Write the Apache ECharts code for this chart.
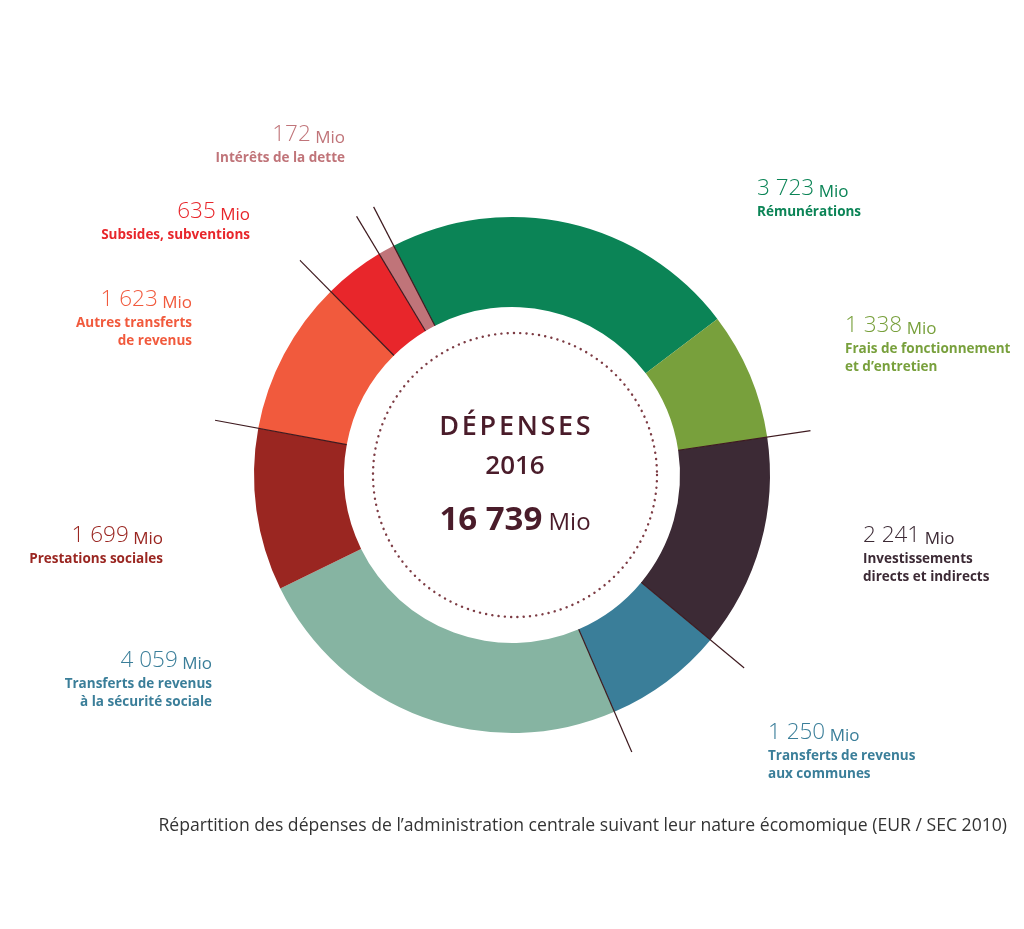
<!DOCTYPE html>
<html>
<head>
<meta charset="utf-8">
<script src="https://cdn.jsdelivr.net/npm/echarts@6/dist/echarts.min.js"></script>
<style>
html,body{margin:0;padding:0;background:#fff;}
#c{width:1024px;height:929px;}
</style>
</head>
<body>
<div id="c"></div>
<script>
// ---- data ----
const categories = [
  'Rémunérations',
  'Frais de fonctionnement\net d’entretien',
  'Investissements\ndirects et indirects',
  'Transferts de revenus\naux communes',
  'Transferts de revenus\nà la sécurité sociale',
  'Prestations sociales',
  'Autres transferts\nde revenus',
  'Subsides, subventions',
  'Intérêts de la dette'
];
const values = [3723, 1338, 2241, 1250, 4059, 1699, 1623, 635, 172];
const reportedTotal = 16739; // total as printed in the centre (rounded figures)
// boundaries (after item index) that carry a leader line
const lineAfter = [1, 2, 3, 5, 6, 7, 8];
const centerTitle = 'DÉPENSES';
const centerYear = '2016';
const unit = 'Mio';
const caption = 'Répartition des dépenses de l’administration centrale suivant leur nature écomomique (EUR / SEC 2010)';

// ---- styles ----
const sliceColors = ['#0b8456', '#78a03c', '#3c2a35', '#3a7e99', '#86b4a2', '#9a2621', '#f15a3d', '#e8262b', '#c07479'];
const labelColors = ['#0b8456', '#78a03c', '#3c2a35', '#3a7e99', '#3a7e99', '#9a2621', '#f15a3d', '#e8262b', '#c07479'];
// label anchor [x, y, align]
const labelPos = [
  [757, 175, 'left'],
  [845, 312, 'left'],
  [863, 522, 'left'],
  [768, 719, 'left'],
  [212, 647, 'right'],
  [163, 522, 'right'],
  [192, 286, 'right'],
  [250, 198, 'right'],
  [345, 121, 'right']
];
const CX = 512, CY = 475, R_IN = 168, R_OUT = 258, R_LINE = 302, START = 117.3;

function fmt(v) {
  return String(v).replace(/\B(?=(\d{3})+(?!\d))/g, ' ');
}
const total = values.reduce((a, b) => a + b, 0);

const cum = [];
values.reduce((a, v, i) => { cum[i] = a + v; return a + v; }, 0);

const pieData = values.map((v, i) => ({
  name: categories[i],
  value: v,
  itemStyle: { color: sliceColors[i] },
  label: { color: labelColors[i], align: labelPos[i][2] }
}));

const lineSeries = lineAfter.map(i => ({
  type: 'line',
  coordinateSystem: 'polar',
  data: [[R_IN, cum[i]], [R_LINE, cum[i]]],
  symbol: 'none',
  silent: true,
  z: 5,
  lineStyle: { color: '#3e1a1f', width: 1.2 }
}));

const FONT = '"Open Sans", "Noto Sans", sans-serif';

const chart = echarts.init(document.getElementById('c'), null, { renderer: 'canvas' });
chart.setOption({
  backgroundColor: '#ffffff',
  animation: false,
  polar: { center: [CX, CY], radius: R_LINE },
  angleAxis: { type: 'value', min: 0, max: total, startAngle: START, clockwise: true, show: false },
  radiusAxis: { type: 'value', min: 0, max: R_LINE, show: false },
  series: [
    {
      type: 'pie',
      center: [CX, CY],
      radius: [R_IN, R_OUT],
      startAngle: START,
      clockwise: true,
      avoidLabelOverlap: false,
      silent: true,
      z: 2,
      data: pieData,
      itemStyle: { borderWidth: 0 },
      label: {
        show: true,
        position: 'outside',
        fontFamily: FONT,
        formatter: function (p) {
          const names = categories[p.dataIndex].split('\n').map(s => '{name|' + s + '}').join('\n');
          return '{num|' + fmt(p.value) + '}{mio| ' + unit + '}\n' + names;
        },
        rich: {
          num: { fontFamily: FONT, fontSize: 22.5, fontWeight: 300, lineHeight: 28 },
          mio: { fontFamily: FONT, fontSize: 17, fontWeight: 400, lineHeight: 28, verticalAlign: 'bottom', padding: [0, 0, 2, 0] },
          name: { fontFamily: FONT, fontSize: 13.5, fontWeight: 700, lineHeight: 18 }
        }
      },
      labelLine: { show: false },
      labelLayout: function (params) {
        const p = labelPos[params.dataIndex];
        return { x: p[0], y: p[1], align: p[2], verticalAlign: 'top', hideOverlap: false, moveOverlap: null };
      }
    }
  ].concat(lineSeries),
  graphic: [
    {
      type: 'circle',
      shape: { cx: CX + 3, cy: CY, r: 142 },
      style: { fill: 'none', stroke: '#7d3c44', lineWidth: 2.4, lineDash: [0.1, 6.2], lineCap: 'round' },
      z: 10
    },
    {
      type: 'text',
      x: CX + 3, y: 427,
      style: {
        text: centerTitle.split('').join('\u200A'),
        fill: '#4a1c2a', font: '600 27px ' + FONT,
        textAlign: 'center', textVerticalAlign: 'middle'
      },
      z: 10
    },
    {
      type: 'text',
      x: CX + 3, y: 467,
      style: {
        text: centerYear,
        fill: '#4a1c2a', font: '600 26px ' + FONT,
        textAlign: 'center', textVerticalAlign: 'middle'
      },
      z: 10
    },
    {
      type: 'text',
      x: CX + 3, y: 521,
      style: {
        text: '{big|' + fmt(reportedTotal) + '}{small| ' + unit + '}',
        textAlign: 'center', textVerticalAlign: 'middle',
        rich: {
          big: { fill: '#4a1c2a', font: '700 33px ' + FONT },
          small: { fill: '#4a1c2a', font: '400 24px ' + FONT, padding: [5, 0, 0, 0] }
        }
      },
      z: 10
    },
    {
      type: 'text',
      x: 1007, y: 826,
      style: {
        text: caption,
        fill: '#333333', font: '400 17.6px ' + FONT,
        textAlign: 'right', textVerticalAlign: 'middle'
      },
      z: 10
    }
  ]
});
</script>
</body>
</html>
